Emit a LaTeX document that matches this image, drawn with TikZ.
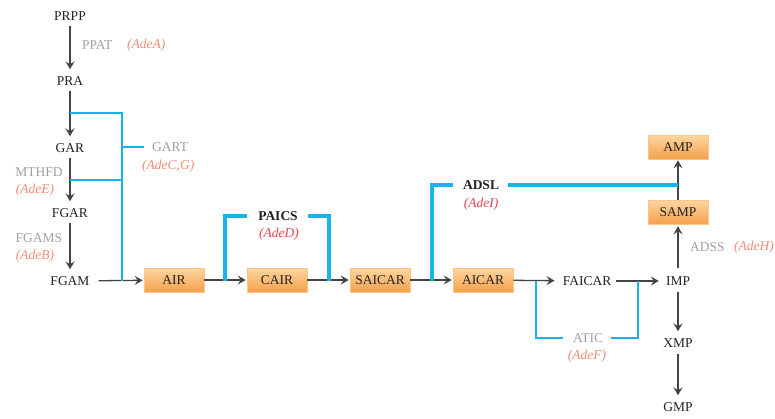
\documentclass[tikz,border=0pt]{standalone}
\usepackage{fontspec}
\setmainfont{Liberation Serif}
\usetikzlibrary{arrows.meta}
\definecolor{blu}{HTML}{1AB2EA}
\definecolor{salm}{HTML}{F08C74}
\definecolor{redd}{HTML}{E8434B}
\definecolor{gry}{HTML}{A0A0A0}
\definecolor{ink}{HTML}{222222}
\definecolor{arrc}{HTML}{444444}
\definecolor{boxtop}{HTML}{FDD6A2}
\definecolor{boxbot}{HTML}{F5A049}
\definecolor{boxline}{HTML}{F9C68A}
\tikzset{
  met/.style={font=\fontsize{13.5}{15}\selectfont, text=ink, inner xsep=5pt, inner ysep=4pt, text height=9pt, text depth=0pt},
  obox/.style={met, minimum width=60pt, minimum height=24pt, inner ysep=0pt, top color=boxtop, bottom color=boxbot, draw=boxline, line width=0.6pt},
  enz/.style={font=\fontsize{13.5}{15}\selectfont, text=gry, inner sep=0pt},
  gene/.style={font=\fontsize{13.5}{15}\selectfont\itshape, text=salm, inner sep=0pt},
  rgene/.style={font=\fontsize{13.5}{15}\selectfont\itshape, text=redd, inner sep=0pt},
  benz/.style={font=\fontsize{13.5}{15}\selectfont\bfseries, text=ink, inner sep=0pt},
  arr/.style={draw=arrc, line width=1.3pt, -{Stealth[length=8pt,width=9pt,inset=3pt]}, shorten >=1pt},
  bthin/.style={draw=blu, line width=2.2pt},
  bthick/.style={draw=blu, line width=3.2pt},
}
\begin{document}
\begin{tikzpicture}[x=1pt,y=-1pt]
\useasboundingbox (0,0) rectangle (775,418);
% left column
\node[met] (prpp) at (70,16) {PRPP};
\node[met] (pra) at (70,81) {PRA};
\node[met] (gar) at (70,148) {GAR};
\node[met] (fgar) at (70,213) {FGAR};
\node[met] (fgam) at (70,281) {FGAM};
% main row
\node[obox] (air) at (174,280) {AIR};
\node[obox] (cair) at (277,280) {CAIR};
\node[obox] (saicar) at (380,280) {SAICAR};
\node[obox] (aicar) at (483,280) {AICAR};
\node[met] (faicar) at (587,281) {FAICAR};
\node[met] (imp) at (678,281) {IMP};
\node[met] (xmp) at (678,343) {XMP};
\node[met] (gmp) at (678,407) {GMP};
\node[obox] (samp) at (678,212) {SAMP};
\node[obox] (amp) at (678,147) {AMP};
% arrows
\draw[arr, shorten <=1pt, shorten >=3pt] (prpp) -- (pra);
\draw[arr, shorten <=1pt, shorten >=3pt] (pra) -- (gar);
\draw[arr, shorten <=1pt, shorten >=3pt] (gar) -- (fgar);
\draw[arr, shorten <=1pt, shorten >=3pt] (fgar) -- (fgam);
\draw[arr, shorten <=4pt] (fgam) -- (air);
\draw[arr] (air) -- (cair);
\draw[arr] (cair) -- (saicar);
\draw[arr] (saicar) -- (aicar);
\draw[arr, shorten >=3pt] (aicar) -- (faicar);
\draw[arr, shorten >=2pt] (faicar) -- (imp);
\draw[arr, shorten <=4pt, shorten >=2pt] (imp) -- (samp);
\draw[arr] (samp) -- (amp);
\draw[arr, shorten <=2pt, shorten >=3pt] (imp) -- (xmp);
\draw[arr, shorten <=2pt, shorten >=3pt] (xmp) -- (gmp);
% enzyme labels
\node[enz, anchor=west] (ppat) at (82,45) {PPAT};
\node[gene, anchor=west] (adea) at (127,45) {(AdeA)};
\node[enz, anchor=west] (gart) at (152,147) {GART};
\node[gene, anchor=west] (adecg) at (142,166) {(AdeC,G)};
\node[enz] (mthfd) at (39,172) {MTHFD};
\node[gene] (adee) at (35,190) {(AdeE)};
\node[enz] (fgams) at (39,238) {FGAMS};
\node[gene] (adeb) at (35,256) {(AdeB)};
\node[benz] (paics) at (278,216) {PAICS};
\node[rgene] (aded) at (279,234) {(AdeD)};
\node[benz] (adsl) at (481,185) {ADSL};
\node[rgene] (adei) at (481,204) {(AdeI)};
\node[enz, anchor=west] (adss) at (690,247) {ADSS};
\node[gene, anchor=west] (adeh) at (734,247) {(AdeH)};
\node[enz] (atic) at (588,338) {ATIC};
\node[gene] (adef) at (587,356) {(AdeF)};
% GART bracket
\coordinate (g1) at (70,113);
\coordinate (g2) at (70,180);
\coordinate (g3) at (122,281);
\coordinate (g4) at (122,147);
\coordinate (g5) at (144,147);
\draw[bthin] (g1) -| (g3);
\draw[bthin] (g2) -- (122,180);
\draw[bthin] (g4) -- (g5);
% PAICS bracket
\coordinate (p1) at (225,281);
\coordinate (p2) at (247,216);
\coordinate (p3) at (308,216);
\coordinate (p4) at (329,281);
\draw[bthick] (p1) |- (p2);
\draw[bthick] (p3) -| (p4);
% ADSL bracket
\coordinate (a1) at (432,281);
\coordinate (a2) at (453,185);
\coordinate (a3) at (508,185);
\coordinate (a4) at (678,185);
\draw[bthick] (a1) |- (a2);
\draw[bthick] (a3) -- (a4);
% ATIC bracket
\coordinate (t1) at (536,281);
\coordinate (t2) at (563,338);
\coordinate (t3) at (611,338);
\coordinate (t4) at (638,281);
\draw[bthin] (t1) |- (t2);
\draw[bthin] (t3) -| (t4);
\end{tikzpicture}
\end{document}
